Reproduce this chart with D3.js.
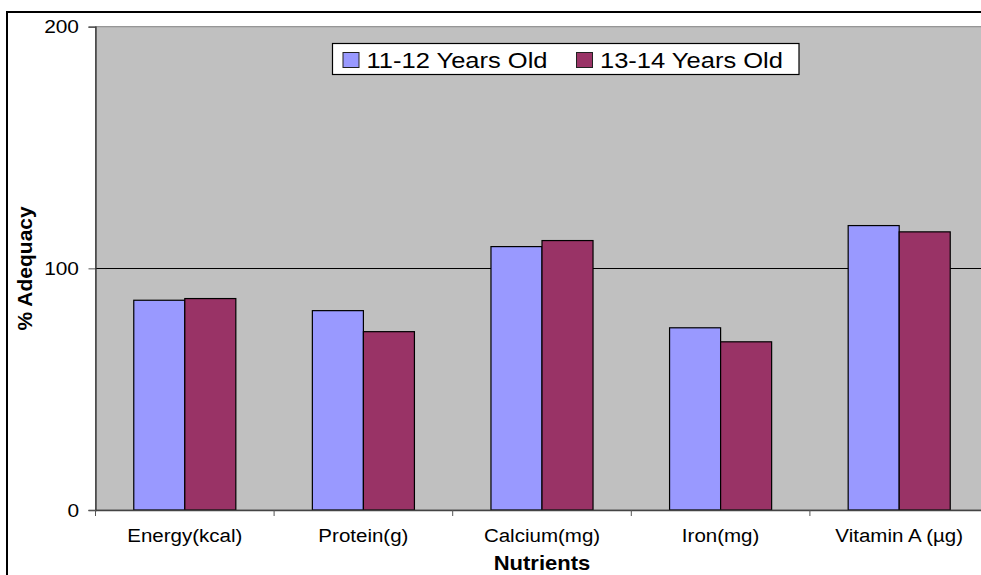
<!DOCTYPE html>
<html>
<head>
<meta charset="utf-8">
<script src="https://cdn.jsdelivr.net/npm/d3@7/dist/d3.min.js"></script>
<style>
  html, body { margin: 0; padding: 0; background: #ffffff; }
  svg { display: block; font-family: "Liberation Sans", Arial, sans-serif; }
</style>
</head>
<body>
<svg id="chart" width="981" height="575"></svg>
<script>
const categories = ["Energy(kcal)", "Protein(g)", "Calcium(mg)", "Iron(mg)", "Vitamin A (\u00b5g)"];
const seriesNames = ["11-12 Years Old", "13-14 Years Old"];
const values1112 = [86.8, 82.5, 109.0, 75.4, 117.7];
const values1314 = [87.5, 73.8, 111.5, 69.6, 115.1];
const yTicks = [0, 100, 200];
const colors = ["#9999FF", "#993366"];

const svg = d3.select("#chart");
const plot = { left: 95.5, top: 26.7, right: 988.5, bottom: 510 };

// outer chart frame
svg.append("rect")
  .attr("x", 7).attr("y", 12)
  .attr("width", 990).attr("height", 600)
  .attr("fill", "#ffffff").attr("stroke", "#000").attr("stroke-width", 2);

const x = d3.scaleBand().domain(categories).range([plot.left, plot.right]).paddingInner(0).paddingOuter(0);
const xs = d3.scaleBand().domain([0, 1]).range([0, x.bandwidth()]).paddingInner(0).paddingOuter(0.75);
const y = d3.scaleLinear().domain([0, 200]).range([plot.bottom, plot.top]);

// plot area
svg.append("rect")
  .attr("x", plot.left).attr("y", plot.top)
  .attr("width", plot.right - plot.left).attr("height", plot.bottom - plot.top)
  .attr("fill", "#C0C0C0").attr("stroke", "#808080").attr("stroke-width", 1);

// gridlines
svg.append("g").selectAll("line").data(yTicks.filter(d => d > 0 && d < 200)).join("line")
  .attr("x1", plot.left).attr("x2", plot.right)
  .attr("y1", d => Math.round(y(d)) + 0.5).attr("y2", d => Math.round(y(d)) + 0.5)
  .attr("stroke", "#000").attr("stroke-width", 1);

// bars
const data = [values1112, values1314];
const groups = svg.append("g").selectAll("g").data(data).join("g")
  .attr("fill", (d, i) => colors[i]);
groups.each(function(vals, si) {
  d3.select(this).selectAll("rect").data(vals).join("rect")
    .attr("x", (v, ci) => x(categories[ci]) + xs(si))
    .attr("y", v => y(v))
    .attr("width", xs.bandwidth())
    .attr("height", v => y(0) - y(v))
    .attr("stroke", "#000").attr("stroke-width", 1.2);
});

// y axis
const yAxis = svg.append("g")
  .attr("transform", `translate(${plot.left},0)`)
  .call(d3.axisLeft(y).tickValues(yTicks).tickSize(7).tickPadding(9.5).tickFormat(d3.format("d")));
yAxis.select(".domain").attr("stroke", "#333").attr("stroke-width", 1.3);
yAxis.selectAll(".tick line").attr("stroke", "#555");
yAxis.selectAll("text")
  .attr("font-size", "19px").attr("fill", "#000")
  .attr("font-family", "Liberation Sans, Arial, sans-serif")
  .attr("transform", function() {
    const tx = +this.getAttribute("x");
    return `translate(${tx},0) scale(1.1,1) translate(${-tx},0)`;
  });

// x axis labels
const xAxis = svg.append("g")
  .attr("transform", `translate(0,${plot.bottom})`)
  .call(d3.axisBottom(x).tickSize(0).tickPadding(19));
xAxis.select(".domain").attr("stroke", "#444").attr("stroke-width", 1.5);
xAxis.selectAll("text")
  .attr("font-size", "19px").attr("fill", "#000")
  .attr("font-family", "Liberation Sans, Arial, sans-serif")
  .attr("transform", "scale(1.08,1)");
// boundary tick marks
const boundaries = categories.map(c => x(c)).concat([x(categories[categories.length - 1]) + x.bandwidth()]);
svg.append("g").selectAll("line").data(boundaries).join("line")
  .attr("x1", d => d).attr("x2", d => d)
  .attr("y1", plot.bottom).attr("y2", plot.bottom + 6)
  .attr("stroke", "#555").attr("stroke-width", 1);

// axis titles
svg.append("text")
  .attr("transform", `translate(32,${(plot.top + plot.bottom) / 2 + 0}) rotate(-90)`)
  .attr("text-anchor", "middle")
  .attr("font-size", "21px").attr("font-weight", "bold")
  .text("% Adequacy");
svg.append("text")
  .attr("transform", `translate(${(plot.left + plot.right) / 2},570) scale(1.1,1)`)
  .attr("text-anchor", "middle")
  .attr("font-size", "20px").attr("font-weight", "bold")
  .text("Nutrients");

// legend
const legend = svg.append("g");
legend.append("rect")
  .attr("x", 332.5).attr("y", 43.5).attr("width", 466.5).attr("height", 31)
  .attr("fill", "#fff").attr("stroke", "#000").attr("stroke-width", 1.2);
const legendX = [343, 576.5];
seriesNames.forEach((name, i) => {
  legend.append("rect")
    .attr("x", legendX[i]).attr("y", 52.5).attr("width", 16).attr("height", 15)
    .attr("fill", colors[i]).attr("stroke", "#222").attr("stroke-width", 1);
  legend.append("text")
    .attr("transform", `translate(${legendX[i] + 23.5},67.5) scale(1.16,1)`)
    .attr("font-size", "22px").attr("fill", "#000")
    .text(name);
});
</script>
</body>
</html>
